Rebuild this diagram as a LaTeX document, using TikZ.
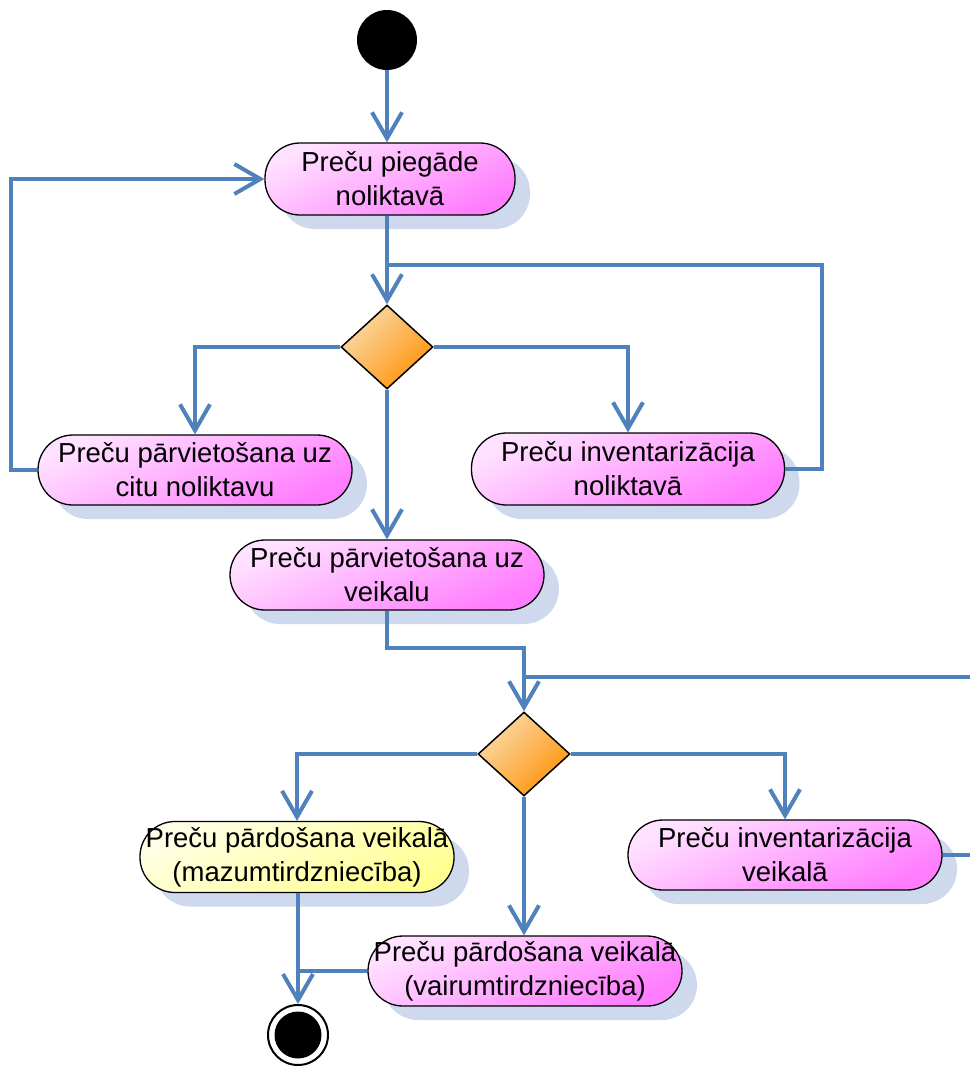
\documentclass[tikz,border=0pt]{standalone}
\usepackage{fontspec}
\setmainfont{Liberation Sans}
\usetikzlibrary{arrows.meta,shapes.geometric,shadows}
\definecolor{lineblue}{RGB}{79,129,189}
\definecolor{pinkL}{RGB}{255,226,255}
\definecolor{pinkM}{RGB}{255,136,255}
\definecolor{pinkD}{RGB}{255,124,255}
\definecolor{yelL}{RGB}{255,255,230}
\definecolor{yelM}{RGB}{255,255,158}
\definecolor{yelD}{RGB}{255,255,145}
\definecolor{orL}{RGB}{250,218,168}
\definecolor{orD}{RGB}{255,148,10}
\definecolor{shadowblue}{RGB}{206,217,238}
\begin{document}
\begin{tikzpicture}[x=1pt,y=-1pt,
  font=\fontsize{27.5}{34}\selectfont,
  act/.style={draw=black, line width=1.3pt, rectangle, rounded corners=35pt,
     minimum width=314pt, minimum height=71pt, inner sep=0pt, align=center,
     general shadow={fill=shadowblue, shadow xshift=15pt, shadow yshift=-14pt},
     top color=pinkL, middle color=pinkM, bottom color=pinkD, shading angle=25},
  yact/.style={act, top color=yelL, middle color=yelM, bottom color=yelD, shading angle=25},
  dec/.style={diamond, draw=black, line width=1.5pt, minimum width=92pt, minimum height=84pt,
     inner sep=0pt, top color=orL, bottom color=orD, shading angle=45},
  conn/.style={draw=lineblue, line width=4pt},
  arr/.style={conn, -{Straight Barb[length=26pt, width=30pt, line width=4pt]}}
]
\useasboundingbox (0,0) rectangle (969,1068);

\node[circle, fill=black, minimum size=60pt, inner sep=0pt] (start) at (387,40) {};
\node[act, minimum width=250pt, minimum height=72pt] (A) at (390,179) {Preču piegāde\\noliktavā};
\node[dec] (D1) at (387,347) {};
\node[act, minimum height=70pt] (B) at (195,470) {Preču pārvietošana uz\\citu noliktavu};
\node[act, minimum width=313pt, minimum height=72pt] (C) at (628,469) {Preču inventarizācija\\noliktavā};
\node[act, minimum height=70pt] (E) at (387,575) {Preču pārvietošana uz\\veikalu};
\node[dec] (D2) at (524,754) {};
\node[yact] (F) at (297,857) {Preču pārdošana veikalā\\(mazumtirdzniecība)};
\node[act, minimum height=70pt] (G) at (785,855) {Preču inventarizācija\\veikalā};
\node[act, minimum height=70pt] (H) at (525,971) {Preču pārdošana veikalā\\(vairumtirdzniecība)};
\node[circle, draw=black, line width=2pt, minimum size=60pt, inner sep=0pt,
  path picture={\fill[black] (path picture bounding box.center) circle (23.5pt);}] (end) at (298,1035) {};

\coordinate (j1) at (387,265);
\coordinate (j2) at (524,677);

\draw[arr] (start) -- (start |- A.north);
\draw[arr] (D1 |- A.south) -- (D1.north);
\draw[conn] (C.east) -- ++(37,0) |- (j1);
\draw[arr] (D1.west) -| (B.north);
\draw[arr] (D1.east) -| (C.north);
\draw[arr] (B.west) -- ++(-26,0) |- (A.west);
\draw[arr] (D1.south) -- (D1 |- E.north);
\draw[arr] (D1 |- E.south) -- ++(0,37) -| (D2.north);
\draw[conn] (G.east) -- (995,855) |- (j2);
\draw[arr] (D2.west) -| (F.north);
\draw[arr] (D2.east) -| (G.north);
\draw[arr] (D2.south) -- (D2 |- H.north);
\draw[arr] (end |- F.south) -- (end.north);
\draw[conn] (H.west) -- (end |- H.west);
\end{tikzpicture}
\end{document}
